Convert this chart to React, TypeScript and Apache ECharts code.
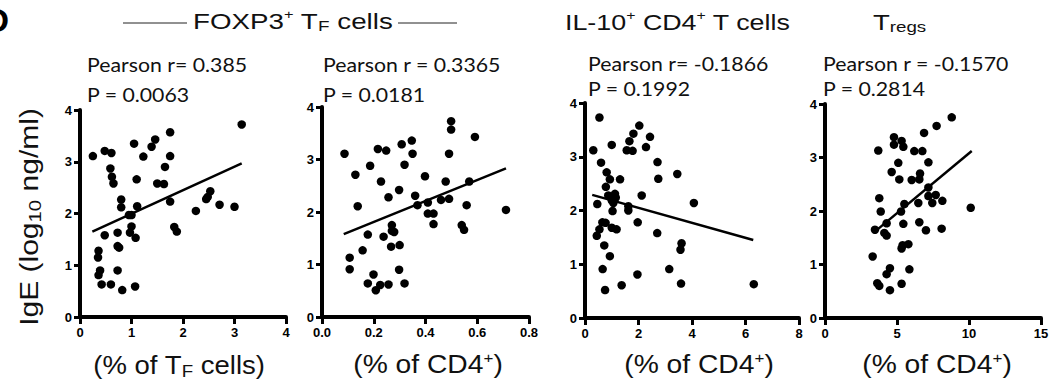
import React, { useEffect, useRef } from "react";
import * as echarts from "echarts";

// ---------- data ----------
const foxp3TfPoints: number[][] = [
  [0.25, 3.11], [0.48, 3.21], [0.61, 3.17], [0.59, 2.87], [0.62, 2.71], [0.65, 2.58],
  [0.80, 2.27], [0.80, 2.12], [0.95, 1.97], [1.00, 1.97], [1.00, 1.75], [0.97, 1.63],
  [1.08, 1.53], [1.11, 2.14], [1.10, 2.66], [1.05, 3.35], [1.23, 3.10], [1.39, 3.29],
  [1.46, 3.43], [1.50, 2.58], [1.63, 2.57], [1.65, 2.90], [1.75, 3.57], [1.75, 3.11],
  [1.75, 2.23], [1.83, 1.74], [1.88, 1.65], [2.25, 2.05], [2.45, 2.28], [2.53, 2.43],
  [2.48, 2.32], [2.71, 2.17], [3.00, 2.13], [3.14, 3.72], [0.48, 1.58], [0.36, 1.28],
  [0.35, 1.15], [0.39, 0.90], [0.36, 0.81], [0.42, 0.63], [0.60, 0.63], [0.73, 1.63],
  [0.73, 1.37], [0.76, 1.34], [0.73, 0.90], [0.82, 0.52], [1.07, 0.59],
];
const foxp3Cd4Points: number[][] = [
  [0.087, 3.11], [0.107, 1.13], [0.107, 0.91], [0.129, 2.71], [0.138, 2.11], [0.157, 1.27],
  [0.177, 1.57], [0.177, 0.64], [0.186, 2.88], [0.199, 0.81], [0.208, 0.51], [0.216, 3.20],
  [0.228, 2.58], [0.225, 0.61], [0.238, 1.53], [0.248, 3.17], [0.257, 2.28], [0.257, 0.62],
  [0.270, 1.75], [0.270, 1.64], [0.279, 1.62], [0.267, 1.34], [0.298, 2.42], [0.300, 1.37],
  [0.298, 0.90], [0.308, 3.29], [0.319, 2.90], [0.319, 0.64], [0.347, 3.36], [0.350, 3.11],
  [0.360, 2.31], [0.369, 2.13], [0.398, 2.68], [0.409, 2.18], [0.409, 1.97], [0.431, 1.97],
  [0.431, 1.77], [0.460, 2.23], [0.478, 2.58], [0.491, 2.25], [0.491, 3.11], [0.499, 3.73],
  [0.499, 3.57], [0.540, 1.75], [0.549, 1.66], [0.559, 2.13], [0.569, 2.58], [0.591, 3.43],
  [0.711, 2.04],
];
const il10Points: number[][] = [
  [0.31, 3.12], [0.46, 2.12], [0.44, 1.53], [0.54, 1.65], [0.54, 3.73], [0.60, 2.89],
  [0.65, 1.78], [0.66, 0.91], [0.72, 1.35], [0.75, 0.52], [0.77, 1.77], [0.78, 2.44],
  [0.81, 2.71], [0.87, 2.28], [0.93, 2.58], [0.93, 1.15], [1.00, 1.68], [1.00, 3.22],
  [1.00, 2.19], [1.03, 1.99], [1.06, 2.14], [1.12, 2.31], [1.15, 2.24], [1.18, 1.65],
  [1.31, 2.58], [1.37, 0.61], [1.56, 3.12], [1.62, 2.00], [1.62, 2.08], [1.66, 3.29],
  [1.78, 3.11], [1.81, 3.43], [1.97, 1.78], [1.96, 0.81], [2.03, 3.58], [2.12, 2.28],
  [2.28, 3.18], [2.43, 3.37], [2.71, 2.90], [2.74, 2.59], [2.70, 1.58], [3.15, 0.91],
  [3.45, 2.68], [3.59, 0.64], [3.57, 1.27], [3.61, 1.39], [4.07, 2.14], [6.31, 0.63],
];
const tregPoints: number[][] = [
  [3.70, 3.13], [4.79, 3.38], [4.79, 3.24], [5.32, 3.31], [5.44, 3.20], [6.20, 3.12],
  [6.76, 3.12], [6.88, 3.46], [7.75, 3.59], [8.80, 3.75], [5.09, 2.90], [4.63, 2.73],
  [5.16, 2.59], [6.02, 2.58], [6.55, 2.59], [6.60, 2.70], [7.18, 2.91], [3.77, 2.24],
  [3.87, 1.99], [5.28, 1.99], [5.51, 2.13], [6.48, 2.15], [7.18, 2.44], [7.18, 2.28],
  [7.69, 2.30], [7.45, 2.15], [8.15, 2.19], [10.12, 2.06], [3.47, 1.65], [4.28, 1.77],
  [4.12, 1.59], [4.28, 1.54], [5.44, 1.76], [6.55, 1.79], [7.01, 1.64], [8.10, 1.67],
  [5.32, 1.30], [5.79, 1.38], [5.39, 1.36], [3.31, 1.15], [4.51, 0.93], [4.28, 0.82],
  [5.86, 0.91], [3.63, 0.65], [3.77, 0.60], [5.32, 0.64], [4.51, 0.52],
];

const foxp3TfFit: number[][] = [[0.24, 1.65], [3.14, 2.97]];
const foxp3Cd4Fit: number[][] = [[0.084, 1.58], [0.711, 2.83]];
const il10Fit: number[][] = [[0.27, 2.29], [6.29, 1.45]];
const tregFit: number[][] = [[3.40, 1.60], [10.19, 3.12]];

const pearsonTexts = ["Pearson r= 0.385", "Pearson r = 0.3365", "Pearson r= -0.1866", "Pearson r = -0.1570"];
const pTexts = ["P = 0.0063", "P = 0.0181", "P = 0.1992", "P = 0.2814"];

const xMax = [4, 0.8, 8, 15];
const xInterval = [1, 0.2, 2, 5];
const xDecimals = [0, 1, 0, 0];
const yMax = 4;
const yInterval = 1;

// ---------- layout ----------
const grids = [
  { left: 80, top: 110, width: 206, height: 207 },
  { left: 322, top: 107, width: 207, height: 210 },
  { left: 585, top: 103, width: 214, height: 215 },
  { left: 825, top: 104, width: 216, height: 214 },
];
const statPos = [
  { x: 87, y1: 64, y2: 94 },
  { x: 323, y1: 64, y2: 94 },
  { x: 588, y1: 63, y2: 88 },
  { x: 823, y1: 63, y2: 88 },
];

const SANS = "Liberation Sans, Arial, Helvetica, sans-serif";
const STAT_FONT = "Lato, 'Open Sans', sans-serif";

const richBase = (size: number) => {
  const sp = Math.round(size * 0.6);
  const sb = Math.round(size * 0.68);
  return {
    m: { fontSize: size, fontFamily: SANS, fill: "#111", color: "#111", lineHeight: size + 4, verticalAlign: "middle" },
    sup: { fontSize: sp, fontFamily: SANS, fill: "#111", color: "#111", lineHeight: sp, verticalAlign: "top" },
    sub: { fontSize: sb, fontFamily: SANS, fill: "#111", color: "#111", lineHeight: sb, verticalAlign: "bottom" },
  };
};

function richText(x: number, y: number, text: string, size: number, align = "left", rotation = 0, scaleX = 1) {
  return {
    type: "text",
    x,
    y,
    rotation,
    scaleX,
    style: {
      text,
      rich: richBase(size),
      font: `${size}px ${SANS}`,
      fill: "#111",
      align,
      verticalAlign: "middle",
      textAlign: align,
      textVerticalAlign: "middle",
    },
  };
}

function plainText(x: number, y: number, text: string, font: string, scaleX = 1) {
  return {
    type: "text",
    x,
    y,
    scaleX,
    style: { text, font, fill: "#111", align: "left", verticalAlign: "middle", textAlign: "left", textVerticalAlign: "middle" },
  };
}

export default function App() {
  const ref = useRef<HTMLDivElement>(null);
  useEffect(() => {
    if (!ref.current) return;
    const chart = echarts.init(ref.current, undefined, { renderer: "svg" });
    const pointSets = [foxp3TfPoints, foxp3Cd4Points, il10Points, tregPoints];
    const fits = [foxp3TfFit, foxp3Cd4Fit, il10Fit, tregFit];

    const axisLineStyle = { color: "#000", width: 4 };
    const xAxes = grids.map((_, i) => ({
      gridIndex: i,
      type: "value",
      min: 0,
      max: xMax[i],
      interval: xInterval[i],
      axisLine: { show: true, onZero: false, lineStyle: axisLineStyle },
      axisTick: { show: true, length: 7, lineStyle: { color: "#000", width: 3 } },
      axisLabel: {
        color: "#000",
        fontWeight: "bold",
        fontSize: 13,
        fontFamily: SANS,
        margin: 9,
        formatter: (v: number) => v.toFixed(xDecimals[i]),
      },
      splitLine: { show: false },
    }));
    const yAxes = grids.map((_, i) => ({
      gridIndex: i,
      type: "value",
      min: 0,
      max: yMax,
      interval: yInterval,
      axisLine: { show: true, onZero: false, lineStyle: axisLineStyle },
      axisTick: { show: true, length: 6, lineStyle: { color: "#000", width: 3 } },
      axisLabel: { color: "#000", fontWeight: "bold", fontSize: 13, fontFamily: SANS, margin: 8 },
      splitLine: { show: false },
    }));

    const series: any[] = [];
    pointSets.forEach((pts, i) => {
      series.push({
        type: "scatter",
        xAxisIndex: i,
        yAxisIndex: i,
        data: pts,
        symbol: "circle",
        symbolSize: 8.5,
        itemStyle: { color: "#000", opacity: 1 },
        silent: true,
      });
      series.push({
        type: "line",
        xAxisIndex: i,
        yAxisIndex: i,
        data: fits[i],
        symbol: "none",
        showSymbol: false,
        lineStyle: { color: "#000", width: 2.5 },
        silent: true,
      });
    });

    const graphics: any[] = [
      { type: "text", x: 9, y: 20, style: { text: "D", font: `bold 34px ${SANS}`, fill: "#000", align: "right", verticalAlign: "middle", textAlign: "right", textVerticalAlign: "middle" } },
      { type: "line", shape: { x1: 123, y1: 23, x2: 187, y2: 23 }, style: { stroke: "#222", lineWidth: 1 } },
      { type: "line", shape: { x1: 398, y1: 23, x2: 457, y2: 23 }, style: { stroke: "#222", lineWidth: 1 } },
      richText(193, 21, "{m|FOXP3}{sup|+}{m| T}{sub|F}{m| cells}", 22, "left", 0, 1.26),
      richText(565, 22, "{m|IL-10}{sup|+}{m| CD4}{sup|+}{m| T cells}", 22, "left", 0, 1.22),
      richText(873, 22, "{m|T}{sub|regs}", 22, "left", 0, 1.25),
      richText(29, 217, "{m|IgE (log}{sub|10}{m| ng/ml)}", 25, "center", Math.PI / 2, 1.2),
      richText(179, 365, "{m|(% of T}{sub|F}{m| cells)}", 25, "center", 0, 1.1),
      richText(428, 365, "{m|(% of CD4}{sup|+}{m|)}", 25, "center", 0, 1.13),
      richText(699, 365, "{m|(% of CD4}{sup|+}{m|)}", 25, "center", 0, 1.13),
      richText(937, 365, "{m|(% of CD4}{sup|+}{m|)}", 25, "center", 0, 1.13),
    ];
    statPos.forEach((p, i) => {
      graphics.push(plainText(p.x, p.y1, pearsonTexts[i], `19px ${STAT_FONT}`, 1.12));
      graphics.push(plainText(p.x, p.y2, pTexts[i], `19px ${STAT_FONT}`, 1.12));
    });

    chart.setOption({
      animation: false,
      backgroundColor: "#fff",
      grid: grids.map((g) => ({ ...g, containLabel: false })),
      xAxis: xAxes,
      yAxis: yAxes,
      series,
      graphic: { elements: graphics },
    });
    return () => chart.dispose();
  }, []);
  return (
    <div
      ref={ref}
      style={{ position: "fixed", left: 0, top: 0, width: 1062, height: 385, background: "#fff" }}
    />
  );
}
